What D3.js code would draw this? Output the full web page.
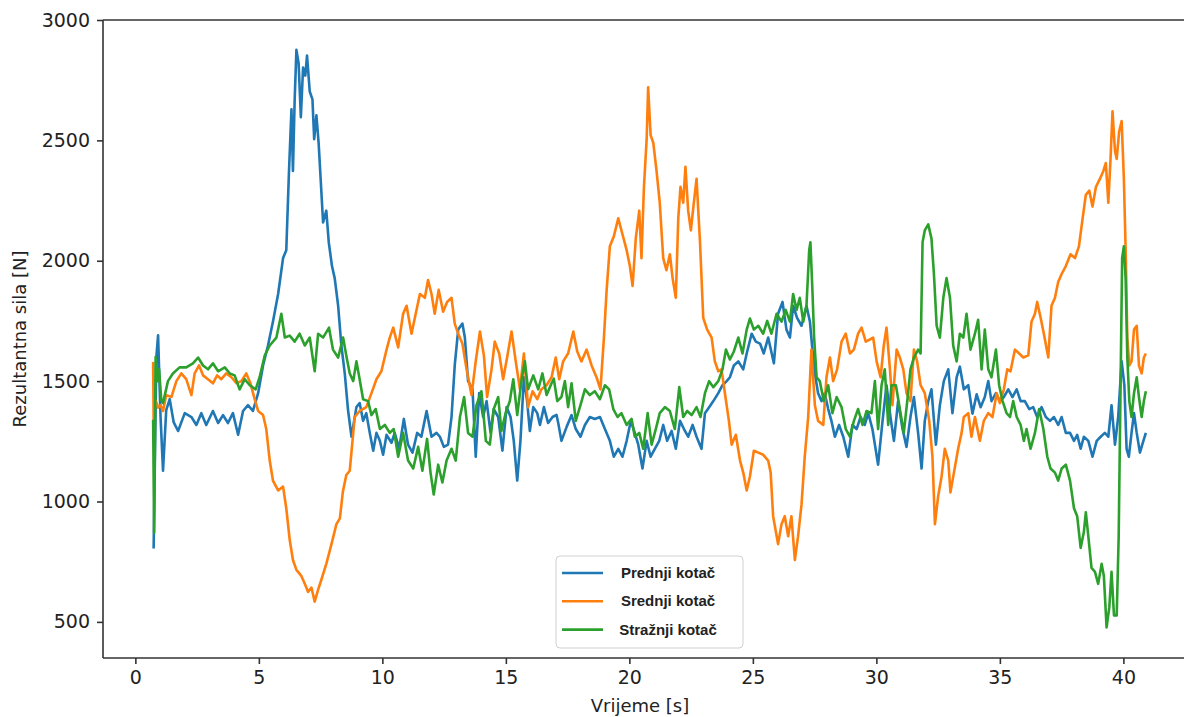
<!DOCTYPE html>
<html>
<head>
<meta charset="utf-8">
<script src="https://cdn.jsdelivr.net/npm/d3@7"></script>
<style>
  body { margin: 0; background: #fff; }
  svg { display: block; }
  .axis text { font-family: "DejaVu Sans", sans-serif; font-size: 19px; fill: #222; }
  .axis path, .axis line { stroke: #333; stroke-width: 1.6; }
</style>
</head>
<body>
<svg id="chart" width="1184" height="717"></svg>
<script>
// series names and colours
var seriesNames = ["Prednji kotač", "Srednji kotač", "Stražnji kotač"];
var seriesColors = ["#1f77b4", "#ff7f0e", "#2ca02c"];
var xTicks = [0, 5, 10, 15, 20, 25, 30, 35, 40];
var yTicks = [500, 1000, 1500, 2000, 2500, 3000];

// Prednji kotač (blue)
var prednjiT = [0.74,0.85,0.92,1.02,1.12,1.25,1.39,1.55,1.73,2.0,2.27,2.47,2.67,2.87,3.14,3.35,3.55,3.75,3.95,4.16,4.36,4.56,4.76,4.97,5.17,5.37,5.57,5.78,5.98,6.11,6.22,6.32,6.38,6.45,6.52,6.61,6.70,6.79,6.88,6.95,7.06,7.17,7.24,7.33,7.42,7.51,7.60,7.73,7.83,7.96,8.07,8.21,8.34,8.48,8.61,8.75,8.95,9.08,9.22,9.35,9.49,9.63,9.76,9.90,10.03,10.17,10.37,10.50,10.68,10.87,11.04,11.22,11.41,11.58,11.79,11.99,12.19,12.33,12.49,12.66,12.80,12.93,13.07,13.24,13.34,13.47,13.65,13.78,13.92,14.08,14.22,14.38,14.51,14.69,14.86,15.03,15.19,15.32,15.46,15.59,15.73,15.86,15.97,16.11,16.27,16.38,16.54,16.71,16.89,17.05,17.12,17.25,17.46,17.66,17.83,18.02,18.20,18.40,18.60,18.81,19.01,19.21,19.37,19.55,19.72,19.89,20.06,20.22,20.36,20.53,20.70,20.86,21.03,21.21,21.37,21.53,21.71,21.88,22.05,22.21,22.38,22.56,22.72,22.92,23.06,23.23,23.40,23.60,23.77,23.94,24.07,24.23,24.41,24.61,24.75,24.95,25.12,25.29,25.44,25.62,25.85,26.02,26.20,26.36,26.50,26.63,26.79,26.97,27.17,27.31,27.41,27.51,27.64,27.78,27.91,28.05,28.18,28.32,28.49,28.66,28.86,29.03,29.20,29.36,29.53,29.67,29.84,30.07,30.25,30.41,30.57,30.71,30.88,31.06,31.22,31.38,31.52,31.69,31.83,31.96,32.10,32.23,32.41,32.57,32.73,32.91,33.08,33.25,33.38,33.54,33.72,33.89,34.06,34.22,34.39,34.53,34.66,34.84,35.0,35.16,35.34,35.51,35.68,35.84,36.01,36.19,36.35,36.51,36.69,36.86,37.03,37.19,37.36,37.50,37.67,37.84,38.0,38.13,38.27,38.40,38.58,38.75,38.92,39.08,39.25,39.39,39.52,39.66,39.79,39.93,40.04,40.13,40.22,40.33,40.43,40.54,40.67,40.81,40.91];
var prednjiV = [805,1600,1690,1350,1128,1380,1425,1330,1293,1367,1351,1318,1367,1318,1376,1326,1359,1326,1367,1277,1376,1400,1376,1450,1565,1648,1747,1862,2011,2044,2373,2629,2373,2670,2876,2819,2596,2802,2769,2852,2703,2670,2505,2604,2489,2324,2159,2208,2077,1978,1928,1813,1648,1530,1380,1269,1392,1409,1335,1367,1285,1211,1285,1252,1194,1277,1244,1285,1219,1343,1236,1203,1285,1269,1376,1269,1285,1269,1227,1236,1351,1565,1714,1739,1681,1500,1466,1186,1450,1351,1417,1285,1384,1351,1211,1392,1351,1252,1087,1252,1516,1417,1293,1392,1367,1318,1392,1326,1351,1360,1326,1252,1310,1359,1301,1269,1318,1351,1343,1351,1301,1252,1186,1219,1186,1252,1335,1285,1236,1137,1252,1186,1219,1252,1318,1252,1293,1219,1335,1301,1269,1318,1269,1219,1367,1392,1417,1450,1483,1500,1516,1565,1582,1549,1615,1697,1664,1656,1615,1681,1574,1780,1829,1714,1681,1813,1763,1730,1813,1747,1631,1532,1450,1417,1450,1384,1335,1269,1318,1269,1186,1318,1301,1351,1318,1367,1301,1153,1335,1483,1351,1252,1417,1301,1227,1351,1434,1285,1137,1335,1417,1466,1236,1400,1500,1549,1367,1516,1560,1466,1483,1365,1445,1392,1434,1500,1417,1450,1417,1434,1466,1434,1466,1417,1417,1384,1392,1351,1392,1351,1335,1351,1318,1351,1285,1285,1252,1277,1219,1269,1252,1186,1252,1269,1285,1269,1400,1236,1351,1582,1483,1219,1186,1285,1367,1285,1203,1252,1285];

// Srednji kotač (orange)
var srednjiT = [0.72,0.74,0.82,0.92,1.02,1.12,1.25,1.46,1.66,1.86,2.06,2.27,2.40,2.58,2.74,2.94,3.14,3.31,3.48,3.68,3.89,4.09,4.29,4.49,4.66,4.83,4.97,5.17,5.30,5.44,5.57,5.78,5.98,6.11,6.25,6.38,6.52,6.72,6.86,6.99,7.13,7.26,7.40,7.53,7.73,7.94,8.14,8.28,8.40,8.54,8.68,8.88,9.08,9.35,9.56,9.76,9.96,10.17,10.30,10.44,10.64,10.84,10.98,11.18,11.35,11.52,11.72,11.85,11.99,12.12,12.28,12.46,12.62,12.80,12.93,13.07,13.24,13.41,13.61,13.78,13.95,14.11,14.24,14.42,14.55,14.73,14.89,15.05,15.23,15.40,15.57,15.73,15.90,16.08,16.27,16.44,16.65,16.85,17.02,17.16,17.32,17.52,17.73,17.89,18.06,18.27,18.47,18.67,18.83,18.97,19.08,19.21,19.37,19.55,19.72,19.89,20.02,20.13,20.26,20.40,20.49,20.59,20.70,20.76,20.86,20.97,21.10,21.23,21.37,21.50,21.64,21.75,21.88,21.98,22.07,22.18,22.27,22.38,22.49,22.61,22.72,22.86,22.99,23.15,23.33,23.46,23.60,23.73,23.89,24.03,24.14,24.31,24.48,24.61,24.75,24.88,25.04,25.22,25.42,25.62,25.72,25.82,26.02,26.16,26.29,26.43,26.56,26.70,26.83,26.97,27.10,27.24,27.37,27.51,27.64,27.85,27.98,28.12,28.25,28.41,28.59,28.76,28.93,29.09,29.26,29.40,29.57,29.74,29.87,30.01,30.17,30.30,30.41,30.55,30.65,30.82,30.95,31.09,31.22,31.38,31.52,31.65,31.79,31.96,32.14,32.27,32.37,32.50,32.64,32.77,32.91,33.00,33.14,33.31,33.45,33.54,33.72,33.85,33.99,34.19,34.35,34.53,34.70,34.87,35.0,35.16,35.30,35.43,35.61,35.78,35.95,36.15,36.28,36.42,36.51,36.65,36.78,36.96,37.09,37.23,37.36,37.50,37.67,37.86,38.04,38.20,38.35,38.48,38.62,38.75,38.89,39.05,39.19,39.29,39.39,39.48,39.56,39.66,39.73,39.83,39.93,40.02,40.10,40.16,40.24,40.33,40.43,40.54,40.63,40.74,40.83,40.91];
var srednjiV = [1580,1340,1420,1390,1400,1376,1442,1434,1500,1532,1508,1442,1532,1565,1524,1508,1491,1524,1508,1532,1516,1491,1500,1532,1491,1425,1376,1359,1301,1170,1087,1046,1062,972,840,757,716,691,658,625,642,584,634,675,741,823,906,930,1040,1110,1128,1351,1376,1392,1450,1508,1541,1631,1681,1722,1640,1780,1813,1697,1780,1862,1846,1920,1862,1780,1879,1788,1829,1846,1739,1697,1656,1549,1442,1582,1706,1607,1434,1549,1664,1615,1508,1598,1706,1582,1466,1615,1392,1458,1425,1466,1483,1516,1598,1508,1582,1615,1706,1623,1582,1631,1565,1516,1466,1681,1879,2060,2101,2176,2110,2044,1978,1895,2093,2208,2011,2307,2505,2720,2522,2489,2373,2241,2011,1961,2027,1928,1846,2176,2307,2241,2390,2208,2126,2241,2340,2077,1763,1714,1681,1582,1541,1549,1434,1335,1236,1277,1170,1120,1046,1104,1211,1203,1194,1170,1120,939,823,906,939,856,939,757,856,988,1186,1351,1631,1400,1335,1318,1516,1598,1500,1549,1664,1697,1615,1631,1697,1722,1664,1673,1681,1582,1516,1648,1722,1549,1400,1631,1598,1549,1450,1417,1631,1582,1483,1450,1335,1186,906,1021,1104,1219,1170,1038,1120,1219,1285,1351,1367,1269,1351,1252,1335,1367,1351,1450,1409,1466,1549,1541,1631,1615,1598,1607,1747,1780,1829,1763,1697,1598,1813,1846,1912,1945,1978,2027,2011,2060,2176,2274,2291,2225,2307,2340,2373,2406,2241,2423,2621,2456,2423,2538,2580,2340,2011,1681,1565,1582,1714,1730,1565,1532,1598,1615];

// Stražnji kotač (green)
var straznjiT = [0.72,0.76,0.82,0.90,0.96,1.05,1.12,1.32,1.52,1.79,2.06,2.33,2.54,2.74,2.94,3.14,3.35,3.62,3.82,4.02,4.22,4.43,4.63,4.87,5.03,5.24,5.44,5.71,5.91,6.05,6.25,6.45,6.65,6.86,7.06,7.26,7.40,7.60,7.84,8.0,8.21,8.41,8.55,8.68,8.82,8.95,9.08,9.22,9.42,9.56,9.73,9.90,10.10,10.30,10.46,10.64,10.84,11.04,11.25,11.45,11.62,11.81,11.95,12.08,12.26,12.43,12.60,12.80,12.97,13.14,13.31,13.47,13.65,13.81,14.01,14.19,14.35,14.51,14.69,14.82,14.99,15.16,15.30,15.46,15.63,15.77,15.90,16.11,16.31,16.48,16.65,16.85,16.94,17.08,17.25,17.39,17.52,17.66,17.83,18.02,18.20,18.40,18.60,18.81,19.01,19.18,19.35,19.52,19.68,19.89,20.09,20.22,20.40,20.56,20.74,20.90,21.07,21.23,21.44,21.64,21.84,22.02,22.18,22.34,22.52,22.72,22.88,23.06,23.23,23.40,23.60,23.77,23.91,24.07,24.23,24.41,24.58,24.75,24.88,25.04,25.22,25.42,25.58,25.75,25.96,26.16,26.33,26.50,26.63,26.77,26.90,27.04,27.17,27.28,27.33,27.41,27.48,27.58,27.71,27.87,28.05,28.22,28.39,28.59,28.76,28.93,29.09,29.26,29.44,29.60,29.80,29.94,30.07,30.21,30.34,30.48,30.61,30.79,30.95,31.11,31.25,31.38,31.52,31.69,31.79,31.87,31.96,32.10,32.23,32.33,32.44,32.57,32.71,32.84,32.98,33.11,33.25,33.38,33.52,33.65,33.81,33.99,34.12,34.26,34.39,34.53,34.66,34.84,34.97,35.11,35.27,35.41,35.54,35.68,35.84,35.97,36.08,36.24,36.42,36.59,36.76,36.92,37.05,37.23,37.36,37.50,37.67,37.84,38.0,38.13,38.27,38.40,38.48,38.58,38.71,38.85,38.98,39.12,39.21,39.32,39.43,39.52,39.62,39.73,39.81,39.89,39.95,40.02,40.09,40.16,40.24,40.33,40.43,40.54,40.63,40.74,40.83,40.91];
var straznjiV = [1340,870,1600,1500,1550,1420,1409,1500,1532,1557,1557,1574,1598,1565,1549,1574,1541,1557,1532,1524,1466,1508,1483,1466,1516,1607,1648,1681,1780,1681,1689,1664,1697,1648,1681,1541,1697,1681,1722,1631,1598,1681,1600,1532,1500,1582,1508,1425,1417,1359,1384,1301,1318,1285,1301,1186,1285,1170,1137,1227,1128,1260,1120,1029,1153,1079,1170,1219,1170,1351,1434,1285,1269,1400,1458,1252,1236,1384,1434,1293,1367,1417,1508,1359,1500,1582,1466,1524,1466,1532,1442,1491,1510,1417,1434,1500,1392,1491,1335,1400,1466,1442,1458,1425,1483,1466,1384,1351,1367,1318,1343,1269,1285,1219,1367,1236,1301,1367,1392,1376,1301,1475,1351,1376,1359,1392,1351,1450,1500,1475,1500,1549,1631,1590,1623,1681,1615,1714,1760,1714,1730,1697,1750,1697,1780,1747,1796,1747,1862,1796,1846,1747,1813,2044,2077,1879,1681,1516,1500,1417,1483,1367,1434,1392,1301,1269,1335,1384,1318,1376,1367,1500,1301,1483,1549,1318,1483,1483,1384,1285,1417,1549,1598,1631,1615,2077,2126,2151,2093,1945,1730,1681,1846,1928,1846,1648,1582,1697,1681,1780,1631,1697,1755,1549,1714,1549,1516,1631,1483,1417,1367,1351,1417,1351,1318,1252,1301,1219,1285,1384,1301,1186,1137,1120,1087,1137,1153,1087,972,939,807,873,955,856,724,708,658,741,691,477,560,708,527,527,856,1516,2011,2060,1928,1598,1417,1351,1450,1516,1434,1351,1417,1458];

var svg = d3.select("#chart");
var W = 1184, H = 717;
var padLeft = 103, padTop = 20, axisBottom = 658, axisRight = 1196;

var x = d3.scaleLinear().domain([-1.31, 42.94]).range([padLeft, axisRight]);
var y = d3.scaleLinear().domain([350, 3000]).range([axisBottom, padTop]);

var series = [
    { name: seriesNames[0], color: seriesColors[0], t: prednjiT, v: prednjiV },
    { name: seriesNames[1], color: seriesColors[1], t: srednjiT, v: srednjiV },
    { name: seriesNames[2], color: seriesColors[2], t: straznjiT, v: straznjiV }
];

var line = d3.line()
    .x(function (d) { return x(d[0]); })
    .y(function (d) { return y(d[1]); });

//lines
for (var i = 0; i < series.length; i++) {
    var s = series[i];
    var pts = s.t.map(function (t, j) { return [t, s.v[j]]; });
    svg.append("path").datum(pts)
        .attr("d", line)
        .attr("fill", "none")
        .attr("stroke", s.color)
        .attr("stroke-width", 2.6)
        .attr("stroke-linejoin", "round");
}

//axes
svg.append("g").attr("class", "axis")
    .attr("transform", "translate(0," + axisBottom + ")")
    .call(d3.axisBottom(x).tickValues(xTicks).tickSize(6).tickPadding(7).tickFormat(d3.format("d")))
    .call(function (g) { g.select(".domain").remove(); });

svg.append("g").attr("class", "axis")
    .attr("transform", "translate(" + padLeft + ",0)")
    .call(d3.axisLeft(y).tickValues(yTicks).tickSize(6).tickPadding(7).tickFormat(d3.format("d")))
    .call(function (g) { g.select(".domain").remove(); });

//spines (right side falls outside the picture)
svg.append("line").attr("x1", padLeft).attr("y1", padTop).attr("x2", padLeft).attr("y2", axisBottom)
    .attr("stroke", "#333").attr("stroke-width", 1.6);
svg.append("line").attr("x1", padLeft).attr("y1", axisBottom).attr("x2", W).attr("y2", axisBottom)
    .attr("stroke", "#333").attr("stroke-width", 1.6);
svg.append("line").attr("x1", padLeft).attr("y1", padTop).attr("x2", W).attr("y2", padTop)
    .attr("stroke", "#333").attr("stroke-width", 1.6);

//axis labels
svg.append("text")
    .attr("x", 640).attr("y", 712)
    .attr("text-anchor", "middle")
    .style("font-family", "DejaVu Sans, sans-serif").style("font-size", "18px").style("fill", "#222")
    .text("Vrijeme [s]");
svg.append("text")
    .attr("transform", "translate(26,339) rotate(-90)")
    .attr("text-anchor", "middle")
    .style("font-family", "DejaVu Sans, sans-serif").style("font-size", "18px").style("fill", "#222")
    .text("Rezultantna sila [N]");

//legend
var lg = svg.append("g").attr("transform", "translate(556,556)");
lg.append("rect").attr("width", 187).attr("height", 92).attr("rx", 4)
    .attr("fill", "#fff").attr("stroke", "#d0d0d0").attr("stroke-width", 1);
for (var i = 0; i < series.length; i++) {
    var ly = 17 + i * 28.3;
    lg.append("line").attr("x1", 6).attr("x2", 47).attr("y1", ly).attr("y2", ly)
        .attr("stroke", series[i].color).attr("stroke-width", 2.6);
    lg.append("text").attr("x", 112).attr("y", ly + 5)
        .attr("text-anchor", "middle")
        .style("font-family", "Liberation Sans, Arial, sans-serif").style("font-weight", "bold")
        .style("font-size", "15px").style("fill", "#222")
        .text(series[i].name);
}
</script>
</body>
</html>
